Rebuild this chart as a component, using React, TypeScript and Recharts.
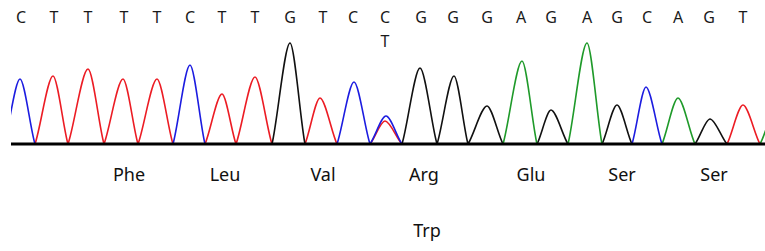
import React from 'react';
import { LineChart, Line, XAxis, YAxis } from 'recharts';

// Base calls along the top
const baseCalls = ['C','T','T','T','T','C','T','T','G','T','C','C','G','G','G','A','G','A','G','C','A','G','T'];
const baseCallPos = [21,54,88,124,157,190,222,255,290,323,353,385,421,453,487,521,551,587,617,647,678,709,743];
// secondary (heterozygous) call
const secondaryCallPos = [385];
const secondaryCalls = ['T'];

// Amino acids
const aminoAcids = ['Phe','Leu','Val','Arg','Glu','Ser','Ser'];
const aminoPos = [129,225,323,424,531,622,714];
const altAminoPos = [424];
const altAminoAcids = ['Trp'];

// Trace peaks (scan position, base, signal, start, end)
const peakPos =    [20, 53, 88, 123,157,190,222,255,290,320,354,386,385,420,454,487,522,551,587,617,646,678,710,743,780];
const peakBase =   ['C','T','T','T','T','C','T','T','G','T','C','C','T','G','G','G','A','G','A','G','C','A','G','T','A'];
const peakSignal = [65, 68, 75, 65, 65, 79, 50, 67, 101,46, 62, 28, 23, 76, 68, 38, 83, 34, 101,39, 57, 46, 25, 39, 45];
const peakStart =  [4,  35, 68, 104,138,173,205,236,272,305,337,370,370,402,437,468,503,537,568,602,632,662,695,727,760];
const peakEnd =    [35, 68, 104,138,173,205,236,272,305,337,370,402,402,437,468,503,537,568,602,632,662,695,727,760,800];

const traceColors: Record<string, string> = {
  T: '#ec1c24',
  G: '#111111',
  A: '#1f9a2a',
  C: '#1c1ce0',
};
const traceOrder = ['T', 'G', 'A', 'C'];

function traceData(base: string) {
  const out: { x: number; v: number | null }[] = [];
  peakPos.forEach((p, i) => {
    if (peakBase[i] !== base) return;
    out.push({ x: peakStart[i], v: 0 });
    out.push({ x: p, v: peakSignal[i] });
    out.push({ x: peakEnd[i], v: 0 });
    out.push({ x: peakEnd[i], v: null });
  });
  return out;
}

const axisAnchor = baseCallPos.map((x) => ({ x, v: 0 }));

// Chromatogram-style peak curve (d3 curve factory interface)
const BASE_HX = 0.3;
const BASE_HY = 0.22;
const TOP_H = 0.3;
function peakCurve(context: any) {
  let xs: number[] = [];
  let ys: number[] = [];
  return {
    areaStart() {},
    areaEnd() {},
    lineStart() {
      xs = [];
      ys = [];
    },
    point(x: number, y: number) {
      xs.push(+x);
      ys.push(+y);
    },
    lineEnd() {
      const n = xs.length;
      if (!n) return;
      context.moveTo(xs[0], ys[0]);
      for (let i = 0; i < n - 1; i++) {
        const x0 = xs[i], y0 = ys[i], x1 = xs[i + 1], y1 = ys[i + 1];
        const dx = x1 - x0, dy = y1 - y0;
        if (Math.abs(dy) < 1e-6) {
          context.lineTo(x1, y1);
          continue;
        }
        if (y1 < y0) {
          context.bezierCurveTo(x0 + dx * BASE_HX, y0 + dy * BASE_HY, x1 - dx * TOP_H, y1, x1, y1);
        } else {
          context.bezierCurveTo(x0 + dx * TOP_H, y0, x1 - dx * BASE_HX, y1 - dy * BASE_HY, x1, y1);
        }
      }
    },
  };
}

const FONT = '"Noto Sans", "DejaVu Sans", sans-serif';

const BaseTick = (props: any) => {
  const { x, payload } = props;
  const i = baseCallPos.indexOf(payload.value);
  const j = secondaryCallPos.indexOf(payload.value);
  return (
    <g>
      <text x={x} y={23} textAnchor="middle" fontFamily={FONT} fontSize={16} fill="#1a1a1a">
        {i >= 0 ? baseCalls[i] : ''}
      </text>
      {j >= 0 && (
        <text x={x} y={47} textAnchor="middle" fontFamily={FONT} fontSize={16} fill="#1a1a1a">
          {secondaryCalls[j]}
        </text>
      )}
    </g>
  );
};

const AminoTick = (props: any) => {
  const { x, payload } = props;
  const i = aminoPos.indexOf(payload.value);
  const j = altAminoPos.indexOf(payload.value);
  return (
    <g>
      <text x={x} y={181} textAnchor="middle" fontFamily={FONT} fontSize={18} fill="#111">
        {i >= 0 ? aminoAcids[i] : ''}
      </text>
      {j >= 0 && (
        <text x={x + 3} y={237} textAnchor="middle" fontFamily={FONT} fontSize={18} fill="#111">
          {altAminoAcids[j]}
        </text>
      )}
    </g>
  );
};

export default function App() {
  return (
    <div style={{ position: 'absolute', left: 0, top: 0, background: '#fff' }}>
      <LineChart width={765} height={251} margin={{ top: 0, right: 0, bottom: 0, left: 11 }}>
        <XAxis
          xAxisId="top"
          orientation="top"
          type="number"
          dataKey="x"
          domain={[11, 765]}
          allowDataOverflow
          height={40}
          ticks={baseCallPos}
          interval={0}
          axisLine={false}
          tickLine={false}
          tick={(p: any) => <BaseTick {...p} />}
        />
        <XAxis
          xAxisId="bottom"
          orientation="bottom"
          type="number"
          dataKey="x"
          domain={[11, 765]}
          allowDataOverflow
          height={107}
          ticks={aminoPos}
          interval={0}
          axisLine={{ stroke: '#000', strokeWidth: 3 }}
          tickLine={false}
          tick={(p: any) => <AminoTick {...p} />}
        />
        <YAxis hide type="number" domain={[0, 104]} allowDataOverflow />
        <Line
          xAxisId="top"
          data={axisAnchor}
          dataKey="v"
          stroke="none"
          dot={false}
          activeDot={false}
          isAnimationActive={false}
        />
        {traceOrder.map((b) => (
          <Line
            key={b}
            xAxisId="bottom"
            data={traceData(b)}
            dataKey="v"
            type={peakCurve as any}
            stroke={traceColors[b]}
            strokeWidth={1.6}
            dot={false}
            activeDot={false}
            connectNulls={false}
            isAnimationActive={false}
          />
        ))}
      </LineChart>
    </div>
  );
}
